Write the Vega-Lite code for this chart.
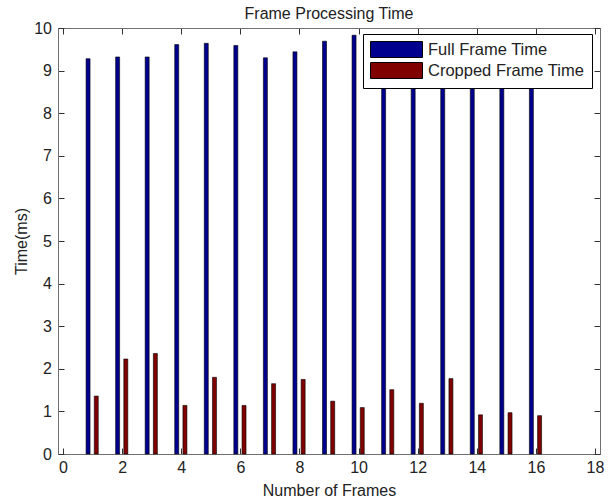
{
  "$schema": "https://vega.github.io/schema/vega-lite/v6.json",
  "autosize": "none",
  "width": 542,
  "height": 426,
  "padding": {"left": 58, "top": 28, "right": 10, "bottom": 47},
  "background": "white",
  "config": {
    "font": "Liberation Sans",
    "view": {"stroke": "#707070", "strokeWidth": 1},
    "axis": {
      "labelFont": "Liberation Sans",
      "labelFontSize": 16,
      "labelColor": "#222222",
      "labelFlush": false,
      "titleFont": "Liberation Sans",
      "titleFontSize": 16,
      "titleFontWeight": "normal",
      "titleColor": "#222222",
      "domainColor": "#707070",
      "tickColor": "#333333",
      "grid": false
    }
  },
  "title": {
    "text": "Frame Processing Time",
    "font": "Liberation Sans",
    "fontSize": 16,
    "fontWeight": "normal",
    "color": "#222222",
    "baseline": "alphabetic",
    "offset": 8,
    "dy": 23
  },
  "data": {
    "values": [
      {"frame": 1, "series": "Full Frame Time", "time": 9.28},
      {"frame": 2, "series": "Full Frame Time", "time": 9.32},
      {"frame": 3, "series": "Full Frame Time", "time": 9.32},
      {"frame": 4, "series": "Full Frame Time", "time": 9.61},
      {"frame": 5, "series": "Full Frame Time", "time": 9.64},
      {"frame": 6, "series": "Full Frame Time", "time": 9.59},
      {"frame": 7, "series": "Full Frame Time", "time": 9.3},
      {"frame": 8, "series": "Full Frame Time", "time": 9.44},
      {"frame": 9, "series": "Full Frame Time", "time": 9.69},
      {"frame": 10, "series": "Full Frame Time", "time": 9.83},
      {"frame": 11, "series": "Full Frame Time", "time": 9.6},
      {"frame": 12, "series": "Full Frame Time", "time": 9.5},
      {"frame": 13, "series": "Full Frame Time", "time": 9.7},
      {"frame": 14, "series": "Full Frame Time", "time": 9.4},
      {"frame": 15, "series": "Full Frame Time", "time": 9.6},
      {"frame": 16, "series": "Full Frame Time", "time": 9.5},
      {"frame": 1, "series": "Cropped Frame Time", "time": 1.36},
      {"frame": 2, "series": "Cropped Frame Time", "time": 2.23},
      {"frame": 3, "series": "Cropped Frame Time", "time": 2.36},
      {"frame": 4, "series": "Cropped Frame Time", "time": 1.14},
      {"frame": 5, "series": "Cropped Frame Time", "time": 1.8},
      {"frame": 6, "series": "Cropped Frame Time", "time": 1.14},
      {"frame": 7, "series": "Cropped Frame Time", "time": 1.65},
      {"frame": 8, "series": "Cropped Frame Time", "time": 1.75},
      {"frame": 9, "series": "Cropped Frame Time", "time": 1.24},
      {"frame": 10, "series": "Cropped Frame Time", "time": 1.09},
      {"frame": 11, "series": "Cropped Frame Time", "time": 1.51},
      {"frame": 12, "series": "Cropped Frame Time", "time": 1.19},
      {"frame": 13, "series": "Cropped Frame Time", "time": 1.77},
      {"frame": 14, "series": "Cropped Frame Time", "time": 0.92},
      {"frame": 15, "series": "Cropped Frame Time", "time": 0.97},
      {"frame": 16, "series": "Cropped Frame Time", "time": 0.9}
    ]
  },
  "resolve": {"axis": {"x": "independent", "y": "independent"}},
  "layer": [
    {
      "transform": [{"filter": "datum.series === 'Full Frame Time'"}],
      "mark": {"type": "bar", "size": 4, "xOffset": -4.5, "stroke": "#000000", "strokeWidth": 0.6},
      "encoding": {
        "x": {
          "field": "frame",
          "type": "quantitative",
          "scale": {"domain": [0, 18], "nice": false, "zero": false},
          "axis": {
            "orient": "bottom",
            "title": "Number of Frames",
            "values": [0, 2, 4, 6, 8, 10, 12, 14, 16, 18],
            "tickSize": -6,
            "labelPadding": 11.5,
            "titlePadding": 6.5
          }
        },
        "y": {
          "field": "time",
          "type": "quantitative",
          "scale": {"domain": [0, 10], "nice": false},
          "axis": {
            "orient": "left",
            "title": "Time(ms)",
            "values": [0, 1, 2, 3, 4, 5, 6, 7, 8, 9, 10],
            "tickSize": -6,
            "labelPadding": 12.5,
            "titlePadding": 4.5
          }
        },
        "color": {
          "field": "series",
          "type": "nominal",
          "scale": {
            "domain": ["Full Frame Time", "Cropped Frame Time"],
            "range": ["#00008F", "#800000"]
          },
          "legend": {
            "title": null,
            "orient": "none",
            "legendX": 305,
            "legendY": 6,
            "fillColor": "white",
            "strokeColor": "#000000",
            "padding": 7,
            "symbolType": "M-3.25,-1H3.25V1H-3.25Z",
            "symbolSize": 256,
            "symbolStrokeColor": "#000000",
            "symbolStrokeWidth": 1,
            "symbolOpacity": 1,
            "symbolOffset": 18,
            "labelOffset": 23,
            "labelFont": "Liberation Sans",
            "labelFontSize": 16.5,
            "labelColor": "#222222",
            "rowPadding": 0
          }
        }
      }
    },
    {
      "transform": [{"filter": "datum.series === 'Cropped Frame Time'"}],
      "mark": {"type": "bar", "size": 4, "xOffset": 3.7, "stroke": "#000000", "strokeWidth": 0.6},
      "encoding": {
        "x": {"field": "frame", "type": "quantitative", "axis": null},
        "y": {"field": "time", "type": "quantitative", "axis": null},
        "color": {"field": "series", "type": "nominal"}
      }
    },
    {
      "mark": {"type": "rule", "opacity": 0},
      "encoding": {
        "x": {
          "datum": 0,
          "type": "quantitative",
          "axis": {"orient": "top", "labels": false, "title": null, "tickSize": -6, "values": [0, 2, 4, 6, 8, 10, 12, 14, 16, 18]}
        },
        "y": {
          "datum": 0,
          "type": "quantitative",
          "axis": {"orient": "right", "labels": false, "title": null, "tickSize": -6, "values": [0, 1, 2, 3, 4, 5, 6, 7, 8, 9, 10]}
        }
      }
    }
  ]
}
